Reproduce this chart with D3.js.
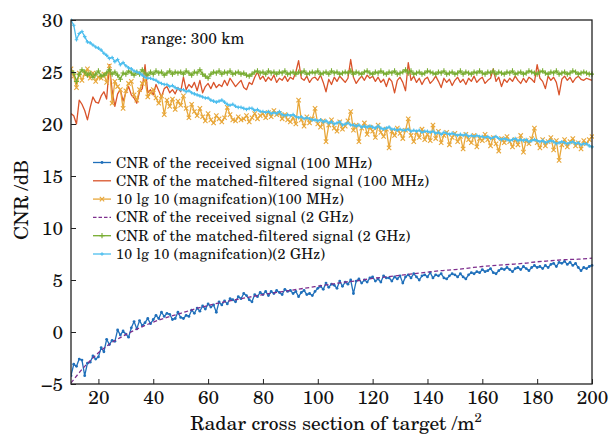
<!DOCTYPE html>
<html>
<head>
<meta charset="utf-8">
<script src="https://cdn.jsdelivr.net/npm/d3@7"></script>
<style>
  body { margin: 0; background: #fff; }
  svg { display: block; }
</style>
</head>
<body>
<svg id="chart" width="609" height="435"></svg>
<script>
// Radar cross section of target (m^2), one sample per square metre
const rcs = d3.range(10, 201);
// Smooth received-signal curve at 2 GHz, sampled every 5 m^2
const rcsCoarse = d3.range(10, 201, 5);

const xTicks = [20, 40, 60, 80, 100, 120, 140, 160, 180, 200];
const yTicks = [-5, 0, 5, 10, 15, 20, 25, 30];

const received100 = [
  -4.2, -3.1, -3.3, -2.6, -2.7, -4.2, -3.0, -2.9, -2.3, -2.6,
  -2.4, -1.5, -1.9, -0.7, -1.2, -0.8, -0.9, 0.2, -0.3, 0.1,
  -0.2, -0.5, 0.4, 1.0, 0.3, 1.1, 0.6, 0.9, 1.3, 0.8,
  1.2, 1.6, 1.3, 1.9, 1.5, 1.8, 1.7, 1.2, 1.3, 1.9,
  1.4, 1.3, 1.6, 1.5, 2.1, 1.8, 2.3, 2.0, 2.5, 2.2,
  2.7, 2.4, 2.6, 1.9, 2.9, 2.6, 3.0, 2.7, 3.2, 3.1,
  2.9, 3.4, 3.2, 3.7, 3.5, 3.1, 2.9, 3.6, 3.4, 3.8,
  3.6, 3.9, 3.5, 3.9, 3.7, 4.0, 3.8, 3.6, 4.1, 3.9,
  4.0, 3.7, 3.9, 3.4, 3.8, 4.0, 3.6, 3.7, 3.5, 3.9,
  4.2, 4.4, 4.1, 4.7, 4.3, 4.6, 4.5, 4.2, 4.9, 4.4,
  4.8, 4.6, 5.0, 3.7, 4.9, 5.1, 4.7, 5.0, 4.8, 5.2,
  5.3, 4.9, 5.1, 4.8, 5.4, 5.2, 5.2, 4.9, 5.3, 5.1,
  5.4, 4.7, 5.3, 5.5, 5.2, 5.6, 5.3, 5.0, 5.4, 5.5,
  5.3, 5.7, 5.2, 5.5, 5.4, 5.6, 5.2, 5.1, 5.4, 5.6,
  5.5, 5.3, 5.6, 5.3, 5.1, 5.5, 5.7, 5.6, 5.8, 5.7,
  6.0, 5.8, 5.9, 6.1, 5.7, 5.6, 5.9, 6.1, 6.0, 6.2,
  6.0, 5.8, 6.1, 6.2, 6.0, 6.3, 6.1, 5.9, 6.2, 6.4,
  6.2, 6.3, 6.1, 6.4, 6.2, 6.5, 6.6, 6.3, 6.7, 6.6,
  6.8, 6.5, 6.7, 6.4, 6.6, 6.2, 5.9, 6.2, 6.1, 6.3,
  6.4
];

const matched100 = [
  21.0, 20.8, 20.0, 22.3, 21.9, 21.3, 20.4, 21.6, 22.6, 22.1,
  22.0, 22.7, 23.1, 22.4, 25.7, 23.2, 21.7, 22.9, 23.3, 22.2,
  23.0, 23.6, 22.8, 22.5, 22.0, 23.1, 23.4, 25.7, 23.0, 23.3,
  22.8, 23.8, 23.2, 22.6, 23.4, 23.6, 23.0, 23.3, 22.9, 23.5,
  23.1, 24.5, 23.3, 23.8, 23.5, 24.0, 23.2, 24.2, 23.0, 23.6,
  23.9, 23.4, 24.0, 23.5, 23.8, 23.6, 24.2, 23.7, 24.4, 24.0,
  23.6, 23.9, 24.2, 23.5, 23.3, 24.0, 23.8, 24.5, 25.0, 24.3,
  24.6, 24.1, 24.5, 24.2, 24.7, 24.0, 24.4, 24.2, 24.6, 24.1,
  24.5, 24.3, 25.0, 26.1, 24.4, 24.2, 24.6, 24.0, 24.4, 24.5,
  24.2, 24.7, 24.0, 23.1, 24.3, 23.8, 24.5, 24.1, 24.6, 24.3,
  24.0, 24.4, 26.2, 24.5, 23.9, 24.3, 24.6, 24.2, 24.7, 24.4,
  24.6, 24.1, 24.5, 24.0, 24.3, 23.6, 24.4, 24.1, 23.0, 24.2,
  24.5, 24.0, 23.2, 25.9, 24.2, 24.6, 24.0, 24.4, 23.8, 24.3,
  24.5, 23.9, 24.2, 24.6, 24.1, 23.5, 24.4, 24.0, 24.3, 23.7,
  24.2, 24.5, 24.0, 24.3, 23.8, 24.4, 24.1, 24.6, 24.0, 24.3,
  24.5, 23.9, 24.2, 24.4, 25.3, 24.1, 24.5, 23.6, 24.3, 24.0,
  24.4, 24.1, 24.6, 24.2, 23.9, 24.4, 24.0, 24.5, 24.3, 24.0,
  25.7, 24.4, 24.1, 23.4, 24.6, 24.2, 24.5, 24.0, 22.8, 24.3,
  24.6, 24.2, 24.5, 24.0, 24.4, 24.6, 24.3, 24.2, 24.4, 24.3,
  24.2
];

const magnif100 = [
  25.3, 24.6, 23.5, 24.9, 24.2, 24.8, 25.3, 24.4, 24.9, 24.1,
  24.5, 24.4, 24.8, 24.0, 25.6, 22.0, 24.1, 23.6, 23.3, 21.5,
  23.2, 23.9, 24.1, 22.8, 22.3, 23.3, 23.9, 24.2, 22.6, 23.0,
  23.3, 22.5, 22.0, 22.7, 20.9, 22.3, 21.7, 22.4, 21.4, 22.2,
  21.8, 22.7, 21.5, 20.6, 21.9, 21.2, 20.8, 21.5, 20.7, 20.3,
  21.0, 20.4, 20.1, 20.8, 20.5, 20.2, 20.6, 21.6, 20.9, 20.4,
  20.3, 20.7, 20.4, 20.5, 20.8, 20.2, 20.6, 21.0, 20.5, 20.8,
  21.0, 20.6, 21.1, 20.7, 21.3, 20.9, 21.0, 20.5, 20.9, 20.4,
  20.2, 20.6, 20.0, 22.3, 20.4, 19.8, 20.7, 20.1, 20.5, 21.5,
  20.0, 19.7, 20.3, 18.3, 19.9, 20.4, 19.6, 19.3, 20.2, 19.5,
  19.8, 20.3, 21.2, 19.4, 19.9, 18.3, 19.6, 20.1, 19.0, 19.7,
  19.3, 18.7, 19.9, 19.2, 18.8, 19.5, 17.7, 19.3, 18.9, 19.6,
  19.1, 18.6, 19.4, 20.5, 18.9, 18.3, 19.2, 18.7, 19.5, 18.5,
  19.0, 18.4, 19.9, 18.6, 19.3, 18.2, 18.9, 19.2, 18.0, 18.7,
  19.1, 18.3, 18.8, 17.6, 19.0, 18.5, 18.2, 18.9, 17.8, 18.6,
  18.4, 19.0, 18.5, 17.9, 18.7, 18.1, 17.4, 18.6, 18.2, 18.8,
  18.3, 17.8, 18.5, 18.0, 18.9, 17.3, 18.4, 18.1, 18.6, 19.6,
  18.2, 17.7, 18.5, 17.9, 18.3, 18.7, 17.5, 18.4, 16.5, 18.0,
  18.5, 17.8, 18.3, 18.6, 17.9, 18.2, 17.6, 18.4, 18.1, 18.5,
  18.8
];

const received2g = [
  -4.9, -3.3, -2.0, -1.0, -0.25, 0.4, 0.95, 1.4, 1.8, 2.2,
  2.55, 2.85, 3.1, 3.35, 3.6, 3.8, 4.0, 4.2, 4.4, 4.6,
  4.8, 4.95, 5.15, 5.3, 5.45, 5.6, 5.75, 5.9, 6.0, 6.15,
  6.3, 6.4, 6.5, 6.6, 6.75, 6.85, 6.95, 7.0, 7.1
];

const matched2g = [
  25.1, 24.9, 24.1, 24.8, 25.2, 25.0, 24.7, 24.9, 24.5, 24.8,
  25.1, 24.6, 24.7, 24.9, 25.2, 24.8, 25.0, 24.7, 24.3, 24.9,
  24.8, 25.1, 24.9, 24.7, 25.0, 24.8, 25.2, 24.9, 24.7, 25.0,
  24.8, 25.1, 24.9, 25.0, 24.7, 24.9, 25.1, 24.8, 25.0, 24.9,
  25.0, 24.8, 25.1, 24.9, 24.7, 25.0, 24.9, 25.2, 24.8, 24.6,
  24.4, 24.8, 25.0, 24.9, 25.1, 24.8, 25.0, 24.9, 25.1, 24.8,
  24.9, 25.0, 24.8, 24.9, 24.7, 24.6, 24.8, 25.0, 25.1, 24.9,
  25.0, 24.8, 25.1, 24.9, 25.0, 24.8, 25.0, 24.9, 25.1, 24.8,
  24.9, 25.0, 24.8, 25.0, 24.9, 25.1, 24.8, 24.9, 25.0, 24.9,
  25.1, 24.8, 24.9, 25.0, 24.8, 25.1, 24.9, 25.0, 24.8, 24.9,
  25.0, 24.9, 25.1, 24.8, 25.0, 24.9, 24.8, 25.0, 25.1, 24.9,
  24.8, 25.0, 24.9, 25.1, 24.9, 24.8, 25.0, 24.9, 25.1, 24.8,
  24.9, 25.0, 25.2, 24.9, 25.1, 24.8, 24.9, 25.0, 24.8, 24.9,
  25.1, 25.0, 24.9, 24.8, 25.0, 24.9, 25.1, 24.8, 24.9, 25.0,
  24.8, 24.9, 25.1, 24.8, 25.0, 24.9, 24.8, 25.0, 24.9, 25.1,
  24.9, 24.8, 25.0, 24.9, 25.1, 24.8, 25.0, 24.9, 24.8, 25.0,
  24.9, 25.1, 24.8, 24.9, 25.0, 24.8, 24.9, 25.1, 25.0, 24.9,
  24.8, 25.0, 25.1, 24.9, 24.8, 25.0, 24.9, 25.1, 24.8, 24.9,
  25.0, 24.8, 24.9, 25.1, 25.0, 24.8, 24.9, 25.0, 24.9, 24.8,
  24.8
];

const magnif2g = [
  30.0, 29.5, 28.1, 28.7, 28.9, 28.4, 27.9, 27.8, 27.6, 27.4,
  27.3, 27.1, 26.8, 26.6, 26.3, 26.4, 26.0, 26.2, 25.7, 25.9,
  25.6, 25.4, 25.3, 25.1, 25.0, 24.9, 24.7, 24.5, 24.4, 24.4,
  24.3, 24.2, 24.0, 23.9, 23.8, 23.8, 23.6, 23.7, 23.5, 23.4,
  23.3, 23.3, 23.1, 23.2, 23.0, 22.9, 22.8, 22.7, 22.6, 22.5,
  22.5, 22.3, 22.2, 22.1, 22.2, 22.3, 22.1, 21.9, 21.8, 21.9,
  21.7, 21.6, 21.6, 21.5, 21.4, 21.5, 21.5, 21.3, 21.4, 21.2,
  21.2, 21.1, 21.2, 21.0, 21.1, 21.0, 21.2, 20.9, 20.8, 20.9,
  20.8, 20.9, 20.7, 20.6, 20.7, 20.5, 20.6, 20.5, 20.4, 20.4,
  20.3, 20.4, 20.2, 20.3, 20.1, 20.2, 20.0, 20.1, 20.2, 19.9,
  20.0, 20.1, 19.9, 19.9, 19.8, 19.9, 19.7, 19.8, 19.7, 19.8,
  19.7, 19.6, 19.8, 19.6, 19.5, 19.6, 19.7, 19.5, 19.5, 19.4,
  19.5, 19.4, 19.4, 19.5, 19.3, 19.4, 19.3, 19.4, 19.2, 19.3,
  19.3, 19.2, 19.3, 19.1, 19.2, 19.0, 19.2, 19.1, 19.0, 19.1,
  19.0, 18.9, 19.0, 18.9, 19.0, 18.8, 18.9, 18.8, 18.9, 18.8,
  18.8, 18.7, 18.8, 18.6, 18.7, 18.8, 18.6, 18.5, 18.6, 18.5,
  18.4, 18.5, 18.6, 18.4, 18.5, 18.4, 18.5, 18.3, 18.4, 18.5,
  18.4, 18.3, 18.4, 18.2, 18.3, 18.4, 18.3, 18.1, 18.2, 18.3,
  18.2, 18.1, 18.2, 18.3, 18.1, 18.2, 18.0, 18.1, 18.1, 17.9,
  17.8
];

const seriesNames = [
  "CNR of the received signal (100 MHz)",
  "CNR of the matched-filtered signal (100 MHz)",
  "10 lg 10 (magnifcation)(100 MHz)",
  "CNR of the received signal (2 GHz)",
  "CNR of the matched-filtered signal (2 GHz)",
  "10 lg 10 (magnifcation)(2 GHz)"
];
const seriesColors = ["#1f6fba", "#d9532a", "#e8a73a", "#7e2f8e", "#77ac30", "#4dbeee"];

const series = [
  { name: seriesNames[0], xs: rcs, ys: received100, color: seriesColors[0], marker: "dot", dash: null },
  { name: seriesNames[1], xs: rcs, ys: matched100, color: seriesColors[1], marker: null, dash: null },
  { name: seriesNames[2], xs: rcs, ys: magnif100, color: seriesColors[2], marker: "x", dash: null },
  { name: seriesNames[3], xs: rcsCoarse, ys: received2g, color: seriesColors[3], marker: null, dash: "4,2.5", smooth: true },
  { name: seriesNames[4], xs: rcs, ys: matched2g, color: seriesColors[4], marker: "plus", dash: null },
  { name: seriesNames[5], xs: rcs, ys: magnif2g, color: seriesColors[5], marker: "smallplus", dash: null }
];

const FONT = '"TeX Gyre Schola", "Century Schoolbook L", "C059", "Liberation Serif", serif';

const svg = d3.select("#chart");
const plotLeft = 71, plotRight = 592, plotTop = 20, plotBottom = 384;

const x = d3.scaleLinear().domain([10, 200]).range([plotLeft, plotRight]);
const y = d3.scaleLinear().domain([-5, 30]).range([plotBottom, plotTop]);

svg.append("defs").append("clipPath").attr("id", "plot-clip")
  .append("rect").attr("x", plotLeft).attr("y", plotTop - 2)
  .attr("width", plotRight - plotLeft + 2).attr("height", plotBottom - plotTop + 4);

const markerPaths = {
  x: "M-2.2,-2.2L2.2,2.2M-2.2,2.2L2.2,-2.2",
  plus: "M-2.6,0H2.6M0,-2.6V2.6",
  smallplus: "M-1.8,0H1.8M0,-1.8V1.8"
};

function drawMarker(g, m, color, px, py) {
  if (m === "dot") {
    g.append("circle").attr("cx", px).attr("cy", py).attr("r", 1.4).attr("fill", color);
  } else if (m) {
    g.append("path").attr("d", markerPaths[m]).attr("transform", `translate(${px},${py})`)
      .attr("stroke", color).attr("stroke-width", 1.1).attr("fill", "none");
  }
}

const plot = svg.append("g").attr("clip-path", "url(#plot-clip)");

series.forEach(s => {
  const pts = s.xs.map((v, i) => [v, s.ys[i]]);
  const line = d3.line().x(d => x(d[0])).y(d => y(d[1]))
    .curve(s.smooth ? d3.curveMonotoneX : d3.curveLinear);
  const g = plot.append("g");
  g.append("path").datum(pts).attr("d", line)
    .attr("fill", "none").attr("stroke", s.color)
    .attr("stroke-width", 1.3)
    .attr("stroke-dasharray", s.dash)
    .attr("stroke-linejoin", "round");
  if (s.marker) {
    pts.forEach(p => drawMarker(g, s.marker, s.color, x(p[0]), y(p[1])));
  }
});

// Axes with inward ticks
const xAxis = d3.axisBottom(x).tickValues(xTicks).tickSizeInner(-5).tickSizeOuter(0).tickPadding(6);
const yAxis = d3.axisLeft(y).tickValues(yTicks).tickSizeInner(-5).tickSizeOuter(0).tickPadding(8);

const gx = svg.append("g").attr("transform", `translate(0,${plotBottom})`).call(xAxis);
const gy = svg.append("g").attr("transform", `translate(${plotLeft},0)`).call(yAxis);
[gx, gy].forEach(g => {
  g.select(".domain").remove();
  g.selectAll(".tick line").attr("stroke", "#222").attr("stroke-width", 1);
  g.selectAll(".tick text")
    .style("font-family", FONT).style("font-size", "19px").style("fill", "#111");
});

// Frame
svg.append("rect").attr("x", plotLeft).attr("y", plotTop)
  .attr("width", plotRight - plotLeft).attr("height", plotBottom - plotTop)
  .attr("fill", "none").attr("stroke", "#222").attr("stroke-width", 1.3);

function label(sel, size) {
  return sel.style("font-family", FONT).style("font-size", size + "px").style("fill", "#111");
}

// Axis titles
const xt = label(svg.append("text"), 19.5)
  .attr("x", 336).attr("y", 429.5).attr("text-anchor", "middle");
xt.append("tspan").text("Radar cross section of target /m");
xt.append("tspan").attr("dy", -8).style("font-size", "13px").text("2");

label(svg.append("text"), 19.5)
  .attr("transform", `translate(28,200) rotate(-90)`)
  .attr("text-anchor", "middle").text("CNR /dB");

// Annotation
label(svg.append("text"), 15.6).attr("x", 141).attr("y", 44).text("range: 300 km");

// Legend
const legend = svg.append("g");
series.forEach((s, i) => {
  const ly = 162.5 + i * 18.3;
  const row = legend.append("g");
  row.append("line").attr("x1", 93).attr("x2", 111).attr("y1", ly).attr("y2", ly)
    .attr("stroke", s.color).attr("stroke-width", 1.3).attr("stroke-dasharray", s.dash ? "3.5,2" : null);
  drawMarker(row, s.marker, s.color, 102, ly);
  label(row.append("text"), 14.2).style("letter-spacing", "0.25px")
    .attr("x", 116).attr("y", ly + 5).text(s.name);
});
</script>
</body>
</html>
